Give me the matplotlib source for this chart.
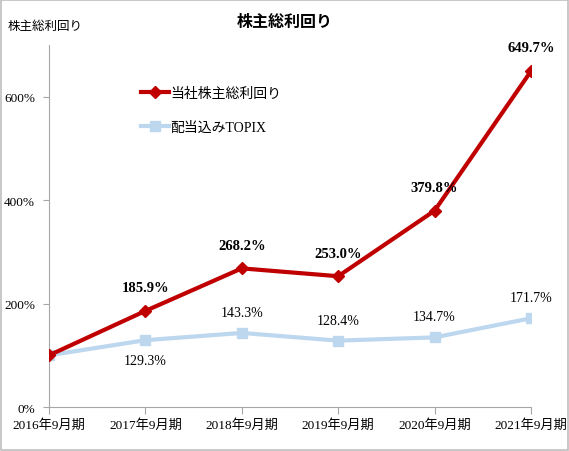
import matplotlib

matplotlib.use("Agg")
import matplotlib.pyplot as plt
from matplotlib.ticker import FuncFormatter

plt.rcParams["font.family"] = ["Liberation Serif", "Noto Sans CJK JP"]

periods = ["2016年9月期", "2017年9月期", "2018年9月期", "2019年9月期", "2020年9月期", "2021年9月期"]
company_tsr = [100.0, 185.9, 268.2, 253.0, 379.8, 649.7]
topix_tsr = [100.0, 129.3, 143.3, 128.4, 134.7, 171.7]
yticks = [0, 200, 400, 600]

red = "#C00000"
blue = "#BDD7EE"
axis_gray = "#A6A6A6"

fig = plt.figure(figsize=(5.69, 4.52), dpi=100)
ax = fig.add_axes([0.0861, 0.0973, 0.8471, 0.8006])

x = range(len(periods))
ax.plot(x, topix_tsr, color=blue, lw=3, marker="s", ms=7, label="配当込みTOPIX", zorder=2)
ax.plot(x, company_tsr, color=red, lw=3, marker="D", ms=6, label="当社株主総利回り", zorder=3)

ax.set_xlim(0, len(periods) - 1)
ax.set_ylim(0, 700)
ax.set_xticks(list(x))
ax.set_xticklabels(periods, fontsize=9.5)
ax.set_yticks(yticks)
ax.yaxis.set_major_formatter(FuncFormatter(lambda v, p: f"{v:.0f}%"))
ax.tick_params(axis="y", labelsize=9.5, length=4, color=axis_gray, pad=6)
ax.tick_params(axis="x", length=5, color=axis_gray, direction="out", pad=3)
ax.spines["top"].set_visible(False)
ax.spines["right"].set_visible(False)
ax.spines["left"].set_color(axis_gray)
ax.spines["bottom"].set_color(axis_gray)

# value labels
for i in range(1, len(periods)):
    ax.annotate(f"{company_tsr[i]:.1f}%", (i, company_tsr[i]), xytext=(0, 12),
                textcoords="offset points", ha="center", va="bottom",
                fontsize=10.5, fontweight="bold")
    dy = -10 if i == 1 else 10
    ax.annotate(f"{topix_tsr[i]:.1f}%", (i, topix_tsr[i]), xytext=(0, dy),
                textcoords="offset points", ha="center",
                va="top" if dy < 0 else "bottom", fontsize=10)

leg = ax.legend(handles=ax.get_lines()[::-1], loc="upper left",
                bbox_to_anchor=(0.165, 0.92), frameon=False, fontsize=10,
                handlelength=2.0, labelspacing=1.5, handletextpad=0.1)

fig.text(0.5, 0.95, "株主総利回り", ha="center", va="center", fontsize=11.5, fontweight="bold")
fig.text(0.014, 0.94, "株主総利回り", ha="left", va="center", fontsize=9)

fig.patches.append(plt.Rectangle((0.001, 0.002), 0.997, 0.995, transform=fig.transFigure,
                                 fill=False, edgecolor="#BFBFBF", lw=1.2))

fig.savefig("out.png", dpi=100)
